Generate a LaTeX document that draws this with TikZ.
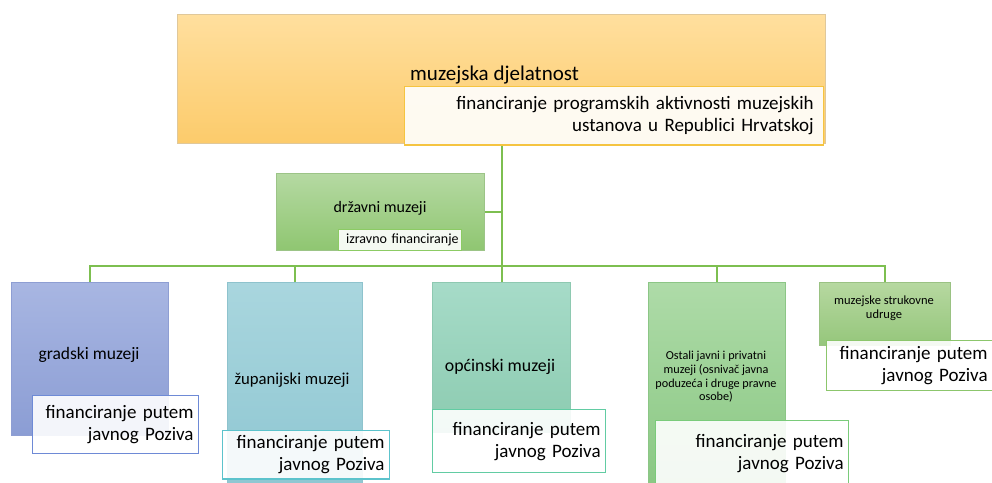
\documentclass[tikz,border=0pt]{standalone}
\usepackage{fontspec}
\setmainfont{Carlito}
\usetikzlibrary{positioning}
\definecolor{linkgreen}{HTML}{7DBF50}
\definecolor{djelline}{HTML}{E0C89A}\definecolor{djeltop}{HTML}{FFDF9E}\definecolor{djelbot}{HTML}{FCCB6B}\definecolor{djelfinline}{HTML}{F5C441}
\definecolor{drzline}{HTML}{9CC487}\definecolor{drztop}{HTML}{B5D9A2}\definecolor{drzbot}{HTML}{8FC671}\definecolor{drzfinline}{HTML}{8CCB64}
\definecolor{gradline}{HTML}{8E9ED3}\definecolor{gradtop}{HTML}{A8B6E2}\definecolor{gradbot}{HTML}{8B9DD4}\definecolor{gradfinline}{HTML}{6E8AD6}
\definecolor{zupline}{HTML}{8EC3CD}\definecolor{zuptop}{HTML}{A9D6DE}\definecolor{zupbot}{HTML}{8CC5D1}\definecolor{zupfinline}{HTML}{5CC3CC}
\definecolor{opcline}{HTML}{8EC9B1}\definecolor{opctop}{HTML}{A6DBC8}\definecolor{opcbot}{HTML}{8CCBB0}\definecolor{opcfinline}{HTML}{62CCA3}
\definecolor{ostline}{HTML}{8CC686}\definecolor{osttop}{HTML}{AEDBA8}\definecolor{ostbot}{HTML}{87C680}\definecolor{ostfinline}{HTML}{7ACB7A}
\definecolor{udrline}{HTML}{9AC283}\definecolor{udrtop}{HTML}{B6D8A0}\definecolor{udrbot}{HTML}{95C67B}\definecolor{udrfinline}{HTML}{8CC66C}
\newcommand{\finfont}{\fontsize{19}{22}\selectfont}

\begin{document}
\begin{tikzpicture}[x=1pt,y=-1pt,
  orgbox/.style={draw=#1line,top color=#1top,bottom color=#1bot,line width=1.2pt,
    anchor=north west,inner sep=0pt},
  finbox/.style={draw=#1finline,fill=white,fill opacity=.9,text opacity=1,line width=1.2pt,
    anchor=north west,align=right,inner sep=5pt,font=\finfont},
  link/.style={draw=linkgreen,line width=2.2pt}]
\clip (0,0) rectangle (992,482);
\useasboundingbox (0,0) rectangle (992,482);
\fill[white] (0,0) rectangle (992,482);

\node[orgbox=djel,minimum width=648,minimum height=129] (djel) at (177,14) {};
\node[orgbox=drz,minimum width=208,minimum height=77] (drz) at (276,173) {};
\node[orgbox=grad,minimum width=157,minimum height=153] (grad) at (11,282) {};
\node[orgbox=zup,minimum width=135,minimum height=220] (zup) at (227,282) {};
\node[orgbox=opc,minimum width=138,minimum height=150] (opc) at (432,282) {};
\node[orgbox=ost,minimum width=137,minimum height=220] (ost) at (648,282) {};
\node[orgbox=udr,minimum width=131,minimum height=63] (udr) at (819,282) {};

\coordinate (bus) at (djel.south |- 0,266);
\draw[link] (djel.south) -- (bus);
\draw[link] (drz.east) -- (drz.east -| bus);
\foreach \unit in {grad,zup,opc,ost,udr}
  \draw[link] (bus) -| (\unit.north);

\node[anchor=base west,inner sep=0pt,font=\fontsize{21}{24}\selectfont] (djeltit) at (410,80) {muzejska djelatnost};
\node[finbox=djel,inner sep=10pt,text width=399,minimum height=56] (djelfin) at (404,86)
  {financiranje programskih aktivnosti muzejskih\\ustanova u Republici Hrvatskoj};

\node[anchor=base,font=\fontsize{16}{19}\selectfont] (drztit) at (380,212) {državni muzeji};
\node[finbox=drz,inner sep=3pt,text width=117,minimum height=21,font=\fontsize{14}{16}\selectfont] (drzfin) at (338,229) {izravno financiranje};

\node[anchor=base,font=\fontsize{17.5}{20}\selectfont] (gradtit) at (89,359) {gradski muzeji};
\node[finbox=grad,text width=156,minimum height=58] (gradfin) at (32,395) {financiranje putem\\javnog Poziva};

\node[anchor=base,font=\fontsize{16.7}{20}\selectfont] (zuptit) at (292,384) {županijski muzeji};
\node[finbox=zup,text width=157,minimum height=44] (zupfin) at (222,430) {financiranje putem\\javnog Poziva};

\node[anchor=base,font=\fontsize{17.8}{20}\selectfont] (opctit) at (500,371) {općinski muzeji};
\node[finbox=opc,text width=163,minimum height=63] (opcfin) at (432,409) {financiranje putem\\javnog Poziva};

\node[align=center,font=\fontsize{12.2}{13.6}\selectfont] (osttit) at (716,377)
  {Ostali javni i privatni\\muzeji (osnivač javna\\poduzeća i druge pravne\\osobe)};
\node[finbox=ost,text width=183,minimum height=66] (ostfin) at (655,420) {financiranje putem\\javnog Poziva};

\node[align=center,font=\fontsize{12.5}{13.5}\selectfont] (udrtit) at (884,308) {muzejske strukovne\\udruge};
\node[finbox=udr,text width=156,minimum height=50] (udrfin) at (826,340) {financiranje putem\\javnog Poziva};
\end{tikzpicture}
\end{document}
